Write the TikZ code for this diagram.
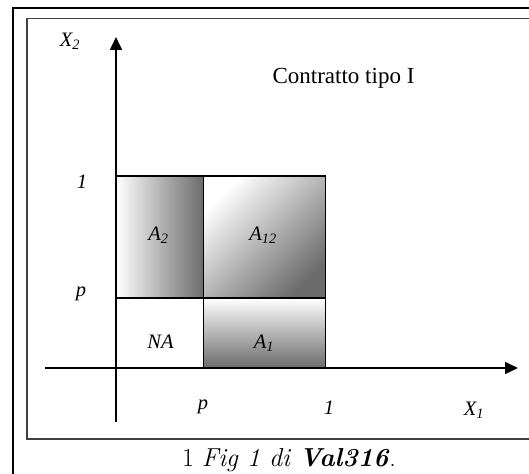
\documentclass[tikz,border=0pt]{standalone}
\usepackage{fontspec}
\newfontfamily\tnr{Liberation Serif}
\usetikzlibrary{arrows.meta}
\definecolor{shadegray}{gray}{0.42}
\begin{document}
\begin{tikzpicture}[x=1pt,y=-1pt,
  lbl/.style={font=\tnr\itshape\fontsize{20.5}{20.5}\selectfont, inner sep=0pt, anchor=base},
  gridline/.style={draw=black, line width=1.2pt},
  axisline/.style={line width=1.6pt, -{Triangle[length=13pt,width=12pt]}},
]
\useasboundingbox (0,0) rectangle (529,473);
\clip (0,0) rectangle (529,473);
\fill[white] (0,0) rectangle (529,473);
% frames
\draw[line width=2pt] (12.5,8.5) rectangle (560,500);
\draw[line width=1.3pt, black!75] (27,18.5) rectangle (560,439);
% shaded regions
\shade[left color=white, right color=shadegray] (116,176) rectangle (203.5,298);
\shade[shading=axis, top color=white, bottom color=shadegray, shading angle=45] (203.5,176) rectangle (325.5,298);
\shade[top color=white, bottom color=shadegray] (203.5,298) rectangle (325.5,368);
% grid
\draw[gridline] (116,176) rectangle (325.5,368);
\draw[gridline] (203.5,176) -- (203.5,368);
\draw[gridline] (116,298) -- (325.5,298);
% axes
\coordinate (xs) at (45,368);
\coordinate (xe) at (518,368);
\coordinate (ys) at (116,422);
\coordinate (ye) at (116,37);
\draw[axisline] (xs) -- (xe);
\draw[axisline] (ys) -- (ye);
% labels
\node[lbl] (x2) at (70,46.7) {X\textsubscript{2}};
\node[lbl] (one2) at (82,188.3) {1};
\node[lbl] (p2) at (81,296) {p};
\node[lbl] (p1) at (203,409) {p};
\node[lbl] (one1) at (329,414) {1};
\node[lbl] (x1) at (474,415) {X\textsubscript{1}};
\node[font=\tnr\fontsize{23}{23}\selectfont, inner sep=0pt, anchor=base] (title) at (343.5,83.3) {Contratto tipo I};
\node[lbl] (a2) at (158.5,240.7) {A\textsubscript{2}};
\node[lbl] (a12) at (263,240.7) {A\textsubscript{12}};
\node[lbl] (na) at (160.5,348) {NA};
\node[lbl] (a1) at (264,348) {A\textsubscript{1}};
% caption
\node[font=\fontsize{26}{26}\selectfont, inner sep=0pt, anchor=base] (cap) at (289,466.5) {1 \textit{Fig 1 di} \textbf{\textit{Val316}}.};
\end{tikzpicture}
\end{document}
